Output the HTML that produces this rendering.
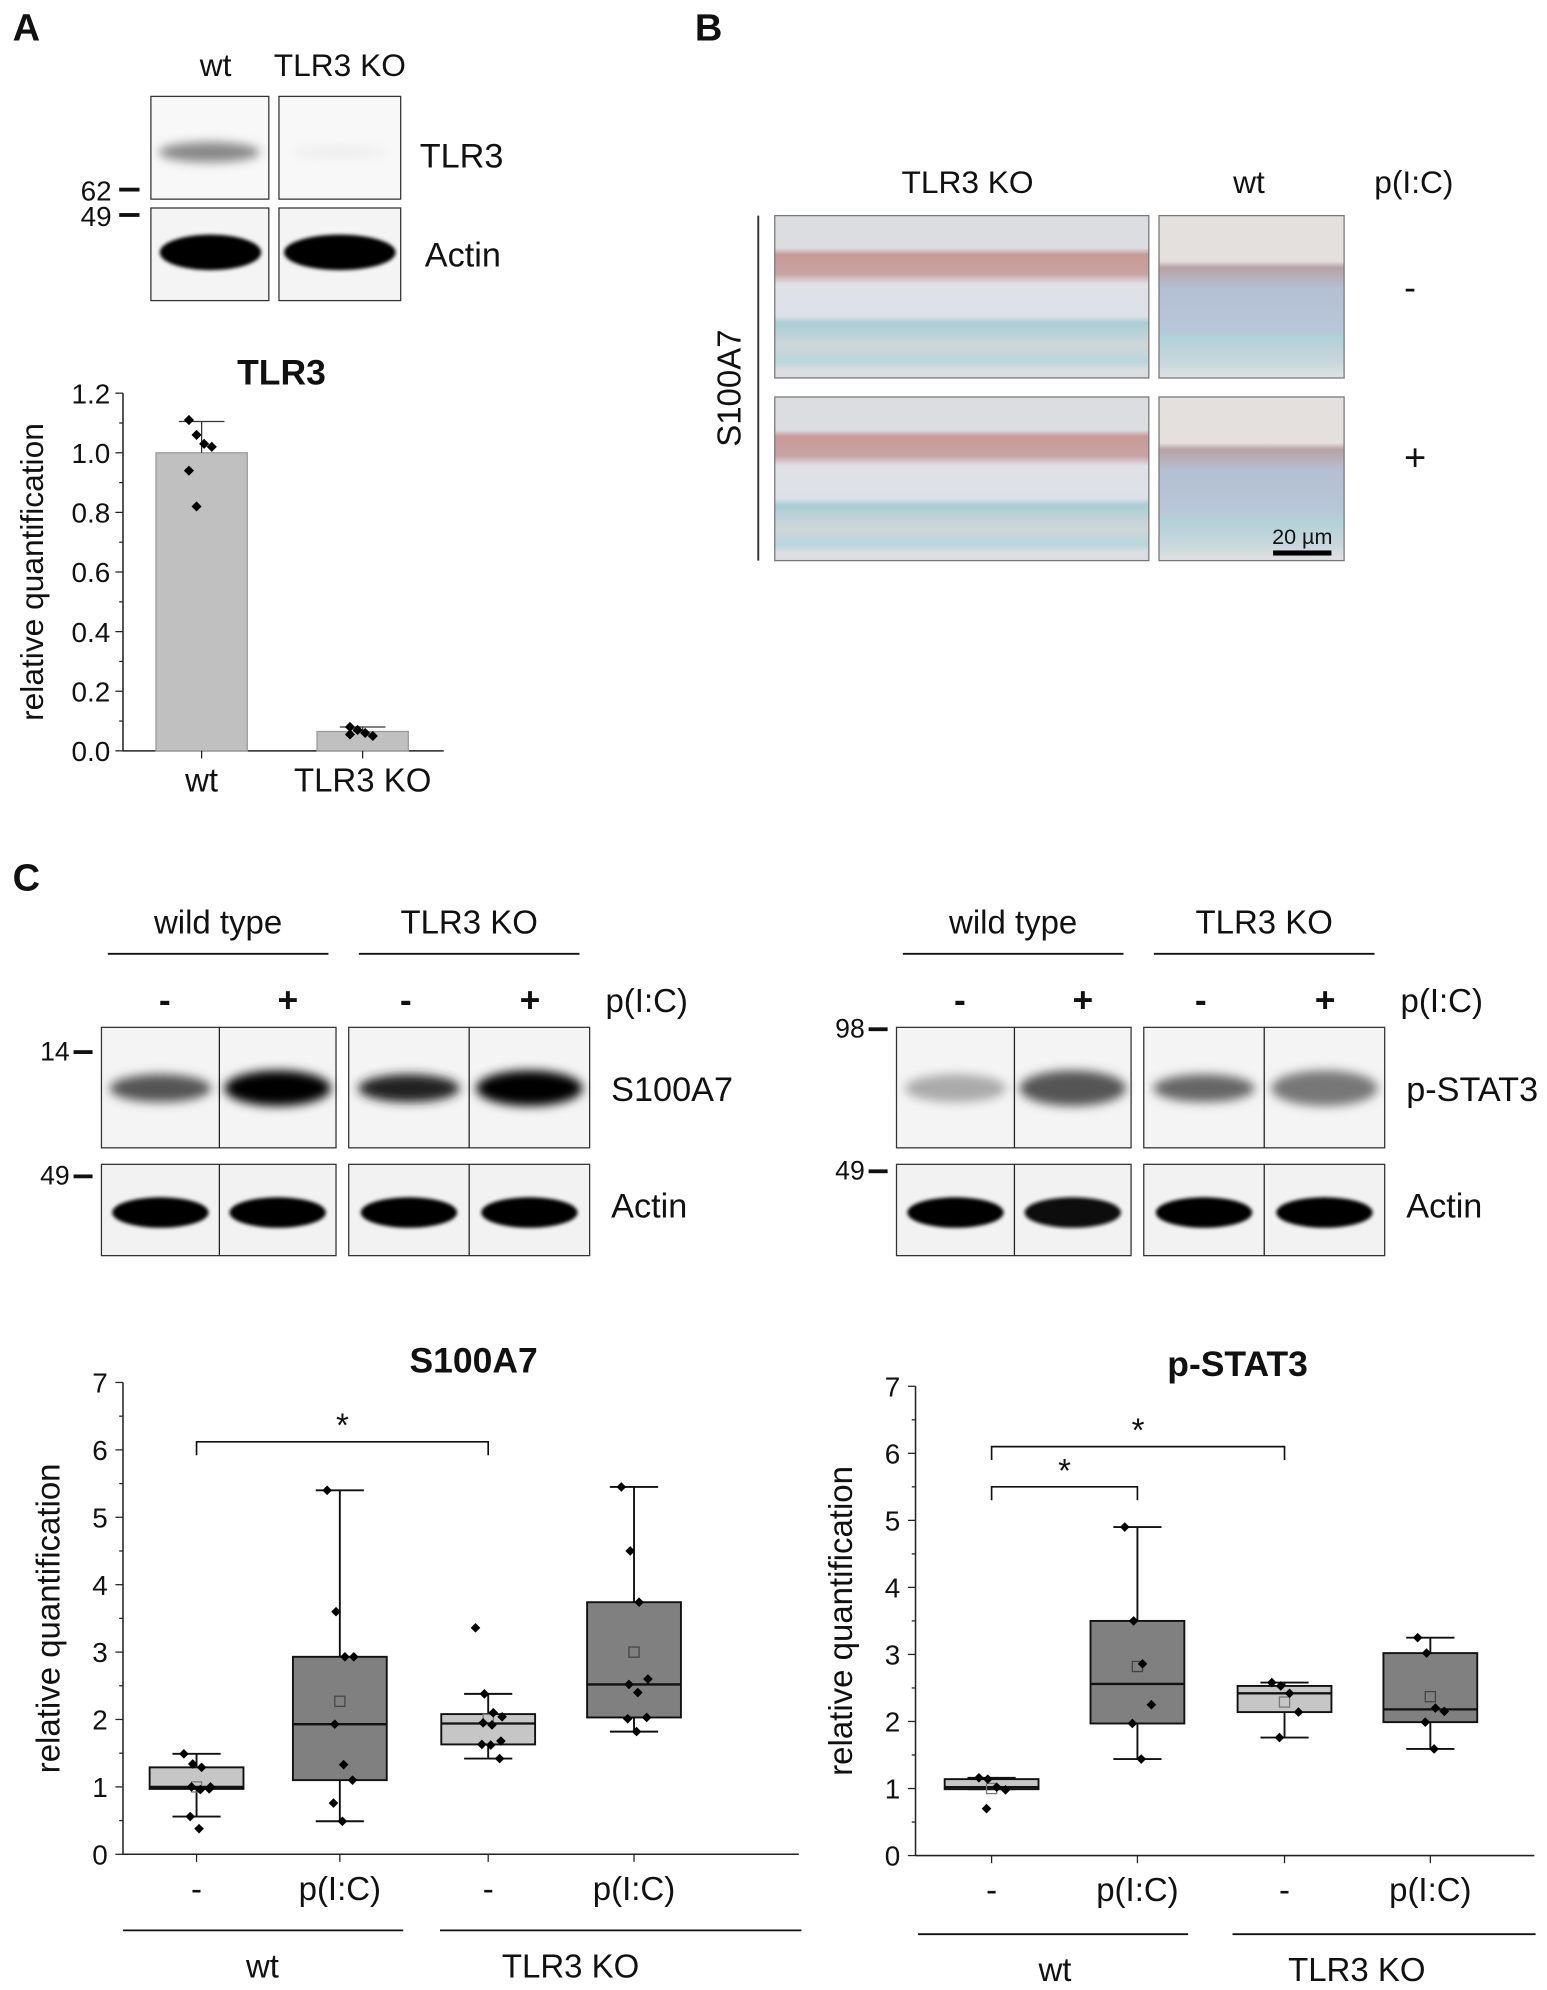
<!DOCTYPE html>
<html><head><meta charset="utf-8"><style>
html,body{margin:0;padding:0;background:#fff}
svg{display:block}
text{font-family:"Liberation Sans",sans-serif;fill:#111}
</style></head><body>
<svg id="fig" width="1547" height="1990" viewBox="0 0 1220 1569" preserveAspectRatio="none" xmlns="http://www.w3.org/2000/svg">
<defs>
<filter id="blur" x="-30%" y="-80%" width="160%" height="260%"><feGaussianBlur stdDeviation="4"/></filter>
<filter id="blur2" x="-10%" y="-50%" width="120%" height="200%"><feGaussianBlur stdDeviation="1.5"/></filter>
<linearGradient id="hkA" x1="0" y1="0" x2="0" y2="1">
<stop offset="0" stop-color="#dcdde0"/><stop offset="0.2" stop-color="#dcdde0"/>
<stop offset="0.24" stop-color="#c99a96"/><stop offset="0.36" stop-color="#c8a3a3"/>
<stop offset="0.42" stop-color="#dfe1e6"/><stop offset="0.62" stop-color="#dde1e7"/>
<stop offset="0.66" stop-color="#a9cdd6"/><stop offset="0.8" stop-color="#cfd7d8"/>
<stop offset="0.9" stop-color="#b9d6dc"/><stop offset="0.95" stop-color="#dcdde0"/><stop offset="1" stop-color="#dcdde0"/>
</linearGradient>
<linearGradient id="hkB" x1="0" y1="0" x2="0" y2="1">
<stop offset="0" stop-color="#e4e0dd"/><stop offset="0.28" stop-color="#e4e0dd"/>
<stop offset="0.32" stop-color="#b7a2a6"/><stop offset="0.45" stop-color="#b4c0d3"/>
<stop offset="0.7" stop-color="#b7c6d8"/><stop offset="0.74" stop-color="#b0d0d8"/>
<stop offset="0.9" stop-color="#c7d7dc"/><stop offset="1" stop-color="#e0e2e3"/>
</linearGradient>
</defs>

<!-- Panel A -->
<text x="10" y="32" font-size="30" font-weight="bold">A</text>
<text x="170" y="60" font-size="25" text-anchor="middle">wt</text>
<text x="268" y="60" font-size="25" text-anchor="middle">TLR3 KO</text>
<g>
<rect x="119" y="76" width="93" height="81" fill="#f8f8f8" stroke="#333"/>
<rect x="220" y="76" width="96" height="81" fill="#f8f8f8" stroke="#333"/>
<ellipse cx="165" cy="120" rx="40" ry="8" fill="#888" filter="url(#blur)"/>
<ellipse cx="268" cy="120" rx="38" ry="5" fill="#eee" filter="url(#blur)"/>
</g>
<g>
<rect x="119" y="164" width="93" height="73" fill="#f4f4f4" stroke="#333"/>
<rect x="220" y="164" width="96" height="73" fill="#f4f4f4" stroke="#333"/>
<ellipse cx="166" cy="199" rx="40" ry="14" fill="#000" filter="url(#blur2)"/>
<ellipse cx="268" cy="199" rx="44" ry="14" fill="#000" filter="url(#blur2)"/>
</g>
<text x="88" y="158" font-size="22" text-anchor="end">62</text>
<rect x="94" y="148" width="16" height="3" fill="#111"/>
<text x="88" y="178" font-size="22" text-anchor="end">49</text>
<rect x="94" y="168" width="16" height="3" fill="#111"/>
<text x="331" y="132" font-size="27">TLR3</text>
<text x="335" y="210" font-size="27">Actin</text>
<g id="chartA"></g>

<!-- Panel B -->
<text x="548" y="32" font-size="30" font-weight="bold">B</text>
<text x="763" y="152" font-size="25" text-anchor="middle">TLR3 KO</text>
<text x="985" y="152" font-size="25" text-anchor="middle">wt</text>
<text x="1115" y="152" font-size="25" text-anchor="middle">p(I:C)</text>
<text x="1112" y="236" font-size="28" text-anchor="middle">-</text>
<text x="1116" y="371" font-size="30" text-anchor="middle">+</text>
<line x1="598" y1="170" x2="598" y2="442" stroke="#333" stroke-width="1.5"/>
<text transform="translate(584,306) rotate(-90)" font-size="26" text-anchor="middle">S100A7</text>
<g>
<rect x="611" y="170" width="295" height="128" fill="url(#hkA)" stroke="#777"/>
<rect x="914" y="170" width="146" height="128" fill="url(#hkB)" stroke="#777"/>
<rect x="611" y="313" width="295" height="129" fill="url(#hkA)" stroke="#777"/>
<rect x="914" y="313" width="146" height="129" fill="url(#hkB)" stroke="#777"/>
</g>
<text x="1027" y="429" font-size="17" text-anchor="middle">20 µm</text>
<rect x="1004" y="434" width="46" height="4" fill="#000"/>

<!-- Panel C -->
<text x="10" y="702" font-size="30" font-weight="bold">C</text>
<g id="blotsC"></g>
<g id="chartS"></g>
<g id="chartP"></g>
</svg>
<script>
// ---- TLR3 bar chart data ----
const tlr3Cats = ["wt", "TLR3 KO"];
const tlr3Means = [1.0, 0.065];
const tlr3Err = [0.105, 0.015];
const tlr3Points = [[1.11, 1.06, 1.03, 1.02, 0.94, 0.82], [0.08, 0.07, 0.06, 0.05, 0.055]];
const tlr3Ticks = [0, 0.2, 0.4, 0.6, 0.8, 1.0, 1.2];

// ---- S100A7 box data ----
const boxCats = ["-", "p(I:C)", "-", "p(I:C)"];
const s100Q1 = [0.97, 1.1, 1.63, 2.03];
const s100Q3 = [1.29, 2.93, 2.08, 3.74];
const s100Med = [1.0, 1.93, 1.94, 2.52];
const s100WLo = [0.56, 0.49, 1.42, 1.82];
const s100WHi = [1.49, 5.4, 2.38, 5.45];
const s100Mean = [1.0, 2.27, 2.0, 3.0];
const s100Points = [[1.49, 1.34, 1.29, 1.0, 1.0, 0.96, 0.97, 0.56, 0.38],
  [5.4, 3.6, 2.93, 2.93, 1.93, 1.33, 1.1, 0.76, 0.49],
  [3.36, 2.38, 2.1, 2.04, 1.95, 1.92, 1.68, 1.63, 1.62, 1.42],
  [5.45, 4.5, 3.74, 2.6, 2.52, 2.4, 2.03, 2.01, 1.82]];

// ---- p-STAT3 box data ----
const pstQ1 = [0.99, 1.97, 2.14, 1.99];
const pstQ3 = [1.14, 3.5, 2.53, 3.02];
const pstMed = [1.02, 2.56, 2.42, 2.18];
const pstWLo = [0.99, 1.44, 1.76, 1.59];
const pstWHi = [1.16, 4.9, 2.58, 3.25];
const pstMean = [1.0, 2.82, 2.29, 2.37];
const pstPoints = [[1.16, 1.14, 1.02, 0.98, 0.7],
  [4.9, 3.5, 2.86, 2.25, 1.97, 1.44],
  [2.58, 2.53, 2.42, 2.14, 1.76],
  [3.25, 3.02, 2.2, 2.15, 1.99, 1.59]];
const boxTicks = [0, 1, 2, 3, 4, 5, 6, 7];
const boxFills = ["#c6c6c6", "#808080", "#c6c6c6", "#808080"];

const NS = "http://www.w3.org/2000/svg";
function mk(parent, tag, attrs, txt) {
  const e = document.createElementNS(NS, tag);
  for (const k in attrs) e.setAttribute(k, attrs[k]);
  if (txt !== undefined) e.textContent = txt;
  parent.appendChild(e);
  return e;
}
function diamond(g, x, y, s) {
  return mk(g, "polygon", {points: `${x},${y-s} ${x+s},${y} ${x},${y+s} ${x-s},${y}`, fill: "#000"});
}

// ---------- TLR3 chart ----------
(function () {
  const g = document.getElementById("chartA");
  const x0 = 97, x1 = 350, yb = 592, yt = 310, vmax = 1.2;
  const y = v => yb - (v / vmax) * (yb - yt);
  const xc = [159, 286];
  mk(g, "text", {x: 222, y: 303, "font-size": 28, "font-weight": "bold", "text-anchor": "middle"}, "TLR3");
  mk(g, "line", {x1: x0, y1: yt, x2: x0, y2: yb, stroke: "#222", "stroke-width": 1.2});
  mk(g, "line", {x1: x0, y1: yb, x2: x1, y2: yb, stroke: "#222", "stroke-width": 1.2});
  tlr3Ticks.forEach(t => {
    mk(g, "line", {x1: x0 - 6, y1: y(t), x2: x0, y2: y(t), stroke: "#222"});
    const l = mk(g, "text", {x: x0 - 10, y: y(t) + 8, "font-size": 22, "text-anchor": "end"}, t.toFixed(1));
    
    
  });
  for (let t = 0.1; t < 1.2; t += 0.2) mk(g, "line", {x1: x0 - 3, y1: y(t), x2: x0, y2: y(t), stroke: "#222"});
  const yl = mk(g, "text", {transform: `translate(34,451) rotate(-90)`, "font-size": 25, "text-anchor": "middle"}, "relative quantification");
  
  
  tlr3Cats.forEach((c, i) => {
    const bar = mk(g, "rect", {x: xc[i] - 36, y: y(tlr3Means[i]), width: 72, height: yb - y(tlr3Means[i]), fill: "#c0c0c0", stroke: "#999"});
    
    
    const top = y(tlr3Means[i] + tlr3Err[i]);
    mk(g, "line", {x1: xc[i], y1: top, x2: xc[i], y2: y(tlr3Means[i]), stroke: "#333"});
    mk(g, "line", {x1: xc[i] - 18, y1: top, x2: xc[i] + 18, y2: top, stroke: "#333"});
    mk(g, "line", {x1: xc[i], y1: yb, x2: xc[i], y2: yb + 6, stroke: "#222"});
    tlr3Points[i].forEach((p, j) => {
      const d = diamond(g, xc[i] - 10 + (j % 4) * 6, y(p), 4);
      
      
    });
    const lab = mk(g, "text", {x: xc[i], y: 624, "font-size": 26, "text-anchor": "middle"}, c);
    
    
  });
})();

// ---------- Blots panel C ----------
(function () {
  const g = document.getElementById("blotsC");
  function set(ox, markTop, markBot, label1, int1, int2) {
    const groups = [["wild type", ox + 92], ["TLR3 KO", ox + 290]];
    groups.forEach(([t, cx]) => {
      mk(g, "text", {x: cx, y: 736, "font-size": 26, "text-anchor": "middle"}, t);
      mk(g, "line", {x1: cx - 87, y1: 752, x2: cx + 87, y2: 752, stroke: "#111", "stroke-width": 1.5});
    });
    [50, 147, 240, 338].forEach((dx, i) => {
      mk(g, "text", {x: ox + dx, y: 798, "font-size": 28, "font-weight": "bold", "text-anchor": "middle"}, i % 2 ? "+" : "-");
    });
    mk(g, "text", {x: ox + 430, y: 798, "font-size": 26, "text-anchor": "middle"}, "p(I:C)");
    const boxes = [[ox, 93, ox + 93, 92], [ox + 195, 95, ox + 290, 95]];
    boxes.forEach(([a, wa, b, wb], k) => {
      [[810, 95], [918, 72]].forEach(([by, bh], r) => {
        mk(g, "rect", {x: a, y: by, width: wa + wb, height: bh, fill: r ? "#f2f2f2" : "#f4f4f4", stroke: "#333"});
        mk(g, "line", {x1: b, y1: by, x2: b, y2: by + bh, stroke: "#222"});
      });
      const i1 = int1[k], i2 = int2[k];
      mk(g, "ellipse", {cx: a + wa / 2, cy: 858, rx: 40, ry: 11, fill: i1[0], filter: "url(#blur)"});
      mk(g, "ellipse", {cx: b + wb / 2, cy: 858, rx: 42, ry: 14, fill: i1[1], filter: "url(#blur)"});
      mk(g, "ellipse", {cx: a + wa / 2, cy: 956, rx: 38, ry: 12, fill: i2[0], filter: "url(#blur2)"});
      mk(g, "ellipse", {cx: b + wb / 2, cy: 956, rx: 38, ry: 12, fill: i2[1], filter: "url(#blur2)"});
    });
    mk(g, "text", {x: ox - 25, y: markTop[1] + 8, "font-size": 21, "text-anchor": "end"}, markTop[0]);
    mk(g, "rect", {x: ox - 22, y: markTop[1], width: 15, height: 3, fill: "#111"});
    mk(g, "text", {x: ox - 25, y: markBot[1] + 8, "font-size": 21, "text-anchor": "end"}, markBot[0]);
    mk(g, "rect", {x: ox - 22, y: markBot[1], width: 15, height: 3, fill: "#111"});
    mk(g, "text", {x: ox + 402, y: 868, "font-size": 27}, label1);
    mk(g, "text", {x: ox + 402, y: 960, "font-size": 27}, "Actin");
  }
  set(80, ["14", 828], ["49", 926], "S100A7",
      [["#555", "#000"], ["#222", "#000"]], [["#000", "#000"], ["#000", "#000"]]);
  set(707, ["98", 810], ["49", 922], "p-STAT3",
      [["#aaa", "#555"], ["#666", "#777"]], [["#000", "#111"], ["#000", "#000"]]);
})();

// ---------- Box charts ----------
function boxChart(gid, title, x0, x1, yb, yt, xc, q1, q3, med, wlo, whi, mean, pts, brackets, groupY, groupLines, groupLabelX) {
  const g = document.getElementById(gid);
  const y = v => yb - (v / 7) * (yb - yt);
  mk(g, "text", {x: (x0 + x1) / 2 + 10, y: yt - 8, "font-size": 28, "font-weight": "bold", "text-anchor": "middle"}, title);
  mk(g, "line", {x1: x0, y1: yt, x2: x0, y2: yb, stroke: "#222", "stroke-width": 1.2});
  mk(g, "line", {x1: x0, y1: yb, x2: x1, y2: yb, stroke: "#222", "stroke-width": 1.2});
  boxTicks.forEach(t => {
    mk(g, "line", {x1: x0 - 6, y1: y(t), x2: x0, y2: y(t), stroke: "#222"});
    const l = mk(g, "text", {x: x0 - 12, y: y(t) + 8, "font-size": 22, "text-anchor": "end"}, String(t));
    
    
    if (t < 7) mk(g, "line", {x1: x0 - 3, y1: y(t + 0.5), x2: x0, y2: y(t + 0.5), stroke: "#222"});
  });
  const yl = mk(g, "text", {transform: `translate(${x0 - 50},${(yb + yt) / 2}) rotate(-90)`, "font-size": 26, "text-anchor": "middle"}, "relative quantification");
  
  
  boxCats.forEach((c, i) => {
    const cx = xc[i], w = 37;
    mk(g, "line", {x1: cx, y1: y(whi[i]), x2: cx, y2: y(wlo[i]), stroke: "#111", "stroke-width": 1.5});
    mk(g, "line", {x1: cx - 19, y1: y(whi[i]), x2: cx + 19, y2: y(whi[i]), stroke: "#111", "stroke-width": 1.5});
    mk(g, "line", {x1: cx - 19, y1: y(wlo[i]), x2: cx + 19, y2: y(wlo[i]), stroke: "#111", "stroke-width": 1.5});
    const b = mk(g, "rect", {x: cx - w, y: y(q3[i]), width: 2 * w, height: y(q1[i]) - y(q3[i]), fill: boxFills[i], stroke: "#111", "stroke-width": 1.5});
    
    
    mk(g, "line", {x1: cx - w, y1: y(med[i]), x2: cx + w, y2: y(med[i]), stroke: "#111", "stroke-width": 1.8});
    const m = mk(g, "rect", {x: cx - 4, y: y(mean[i]) - 4, width: 8, height: 8, fill: "none", stroke: i % 2 ? "#444" : "#777"});
    
    
    pts[i].forEach((p, j) => {
      const d = diamond(g, cx - 10 + (j * 7) % 22, y(p), 3.8);
      
      
    });
    mk(g, "line", {x1: cx, y1: yb, x2: cx, y2: yb + 6, stroke: "#222"});
    const lab = mk(g, "text", {x: cx, y: yb + 36, "font-size": 26, "text-anchor": "middle"}, c);
    
    
  });
  brackets.forEach(([a, b, top]) => {
    const yt2 = y(top), yd = y(top - 0.2);
    mk(g, "polyline", {points: `${xc[a]},${yd} ${xc[a]},${yt2} ${xc[b]},${yt2} ${xc[b]},${yd}`, fill: "none", stroke: "#111", "stroke-width": 1.3});
    mk(g, "text", {x: (xc[a] + xc[b]) / 2, y: yt2 - 4, "font-size": 26, "text-anchor": "middle"}, "*");
  });
  mk(g, "line", {x1: groupLines[0], y1: groupY, x2: groupLines[1], y2: groupY, stroke: "#111", "stroke-width": 1.4});
  mk(g, "line", {x1: groupLines[2], y1: groupY, x2: groupLines[3], y2: groupY, stroke: "#111", "stroke-width": 1.4});
  mk(g, "text", {x: groupLabelX[0], y: groupY + 37, "font-size": 26, "text-anchor": "middle"}, "wt");
  mk(g, "text", {x: groupLabelX[1], y: groupY + 37, "font-size": 26, "text-anchor": "middle"}, "TLR3 KO");
}
boxChart("chartS", "S100A7", 97, 630, 1462, 1090, [155, 268, 385, 500],
  s100Q1, s100Q3, s100Med, s100WLo, s100WHi, s100Mean, s100Points, [[0, 2, 6.12]], 1522,
  [97, 318, 347, 632], [207, 450]);
boxChart("chartP", "p-STAT3", 722, 1210, 1463, 1093, [782, 897, 1013, 1128],
  pstQ1, pstQ3, pstMed, pstWLo, pstWHi, pstMean, pstPoints, [[0, 2, 6.1], [0, 1, 5.5]], 1525,
  [724, 937, 972, 1211], [832, 1070]);
</script>
</body></html>
